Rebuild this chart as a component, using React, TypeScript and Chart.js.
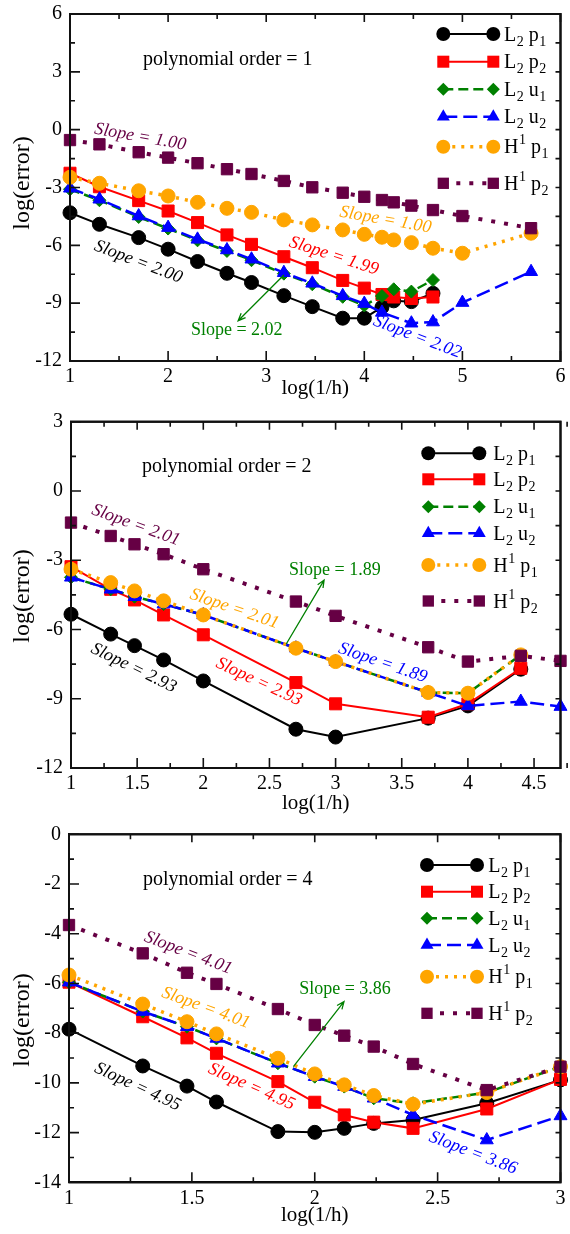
import React, { useEffect, useRef } from 'react';
import { Chart, registerables } from 'chart.js';

Chart.register(...registerables);

const SERIF = '"Liberation Serif", "Times New Roman", Times, serif';
const W = 570;

// ---------------- Panel 1 : polynomial order = 1 ----------------
const P1_X = [1, 1.3, 1.7, 2, 2.3, 2.6, 2.85, 3.18, 3.47, 3.78, 4.0, 4.18, 4.3, 4.48, 4.7];
const P1_X_LONG = [1, 1.3, 1.7, 2, 2.3, 2.6, 2.85, 3.18, 3.47, 3.78, 4.0, 4.18, 4.3, 4.48, 4.7, 5.0, 5.7];
const P1_X_U2 = [1, 1.3, 1.7, 2, 2.3, 2.6, 2.85, 3.18, 3.47, 3.78, 4.0, 4.18, 4.48, 4.7, 5.0, 5.7];
const P1_L2_P1 = [-4.31, -4.91, -5.6, -6.2, -6.84, -7.45, -7.93, -8.61, -9.18, -9.78, -9.78, -9.21, -8.88, -8.92, -8.49];
const P1_L2_P2 = [-2.26, -2.96, -3.68, -4.22, -4.82, -5.46, -5.95, -6.59, -7.16, -7.82, -8.22, -8.55, -8.68, -8.76, -8.68];
const P1_L2_U1 = [-3.09, -3.66, -4.53, -5.13, -5.74, -6.29, -6.77, -7.47, -8.02, -8.67, -9.12, -8.63, -8.28, -8.4, -7.8];
const P1_L2_U2 = [-3.04, -3.61, -4.48, -5.08, -5.69, -6.24, -6.72, -7.42, -7.97, -8.62, -9.02, -9.48, -10.04, -9.98, -8.97, -7.37];
const P1_H1_P1 = [-2.47, -2.78, -3.17, -3.44, -3.77, -4.08, -4.29, -4.68, -4.94, -5.2, -5.43, -5.58, -5.72, -5.86, -6.15, -6.41, -5.37];
const P1_H1_P2 = [-0.54, -0.76, -1.17, -1.45, -1.74, -2.05, -2.3, -2.66, -2.99, -3.27, -3.48, -3.65, -3.77, -3.94, -4.17, -4.48, -5.11];
const P1_X_TICKS = [1, 2, 3, 4, 5, 6];
const P1_Y_TICKS = [-12, -9, -6, -3, 0, 3, 6];

// ---------------- Panel 2 : polynomial order = 2 ----------------
const P2_X = [1, 1.3, 1.48, 1.7, 2, 2.7, 3, 3.7, 4, 4.4];
const P2_X_LONG = [1, 1.3, 1.48, 1.7, 2, 2.7, 3, 3.7, 4, 4.4, 4.7];
const P2_L2_P1 = [-5.34, -6.2, -6.7, -7.32, -8.23, -10.32, -10.66, -9.84, -9.31, -7.72];
const P2_L2_P2 = [-3.28, -4.26, -4.72, -5.37, -6.23, -8.3, -9.22, -9.8, -9.22, -7.68];
const P2_L2_U1 = [-3.74, -4.26, -4.58, -4.9, -5.37, -6.81, -7.39, -8.73, -8.76, -7.1];
const P2_L2_U2 = [-3.74, -4.26, -4.58, -4.9, -5.37, -6.81, -7.39, -8.73, -9.31, -9.12, -9.34];
const P2_H1_P1 = [-3.39, -3.97, -4.33, -4.76, -5.37, -6.81, -7.39, -8.73, -8.76, -7.1];
const P2_H1_P2 = [-1.37, -1.95, -2.31, -2.74, -3.39, -4.79, -5.41, -6.77, -7.39, -7.14, -7.36];
const P2_X_TICKS = [1, 1.5, 2, 2.5, 3, 3.5, 4, 4.5];
const P2_Y_TICKS = [-12, -9, -6, -3, 0, 3];

// ---------------- Panel 3 : polynomial order = 4 ----------------
const P3_X = [1, 1.3, 1.48, 1.6, 1.85, 2, 2.12, 2.24, 2.4, 2.7, 3];
const P3_L2_P1 = [-7.84, -9.32, -10.13, -10.77, -11.96, -11.99, -11.83, -11.63, -11.49, -10.82, -9.88];
const P3_L2_P2 = [-5.95, -7.34, -8.19, -8.81, -9.95, -10.78, -11.29, -11.58, -11.83, -11.05, -9.86];
const P3_L2_U1 = [-5.95, -7.13, -7.74, -8.21, -9.21, -9.75, -10.15, -10.62, -10.82, -10.39, -9.35];
const P3_L2_U2 = [-5.95, -7.13, -7.74, -8.21, -9.21, -9.75, -10.15, -10.62, -11.29, -12.3, -11.33];
const P3_H1_P1 = [-5.66, -6.83, -7.54, -8.03, -9.01, -9.64, -10.08, -10.51, -10.86, -10.39, -9.35];
const P3_H1_P2 = [-3.65, -4.79, -5.57, -6.02, -7.03, -7.67, -8.1, -8.54, -9.24, -10.29, -9.35];
const P3_X_TICKS = [1, 1.5, 2, 2.5, 3];
const P3_Y_TICKS = [-14, -12, -10, -8, -6, -4, -2, 0];

// legend labels: main letter, its index (sub/sup), variable, variable subscript
const LEGEND_LABELS = [
  { main: 'L', idx: '2', sup: false, v: 'p', vi: '1' },
  { main: 'L', idx: '2', sup: false, v: 'p', vi: '2' },
  { main: 'L', idx: '2', sup: false, v: 'u', vi: '1' },
  { main: 'L', idx: '2', sup: false, v: 'u', vi: '2' },
  { main: 'H', idx: '1', sup: true, v: 'p', vi: '1' },
  { main: 'H', idx: '1', sup: true, v: 'p', vi: '2' },
];

const BLACK = '#000000';
const RED = '#ff0000';
const GREEN = '#008000';
const BLUE = '#0000ff';
const ORANGE = '#ffa500';
const PURPLE = '#660044';

const STYLES = [
  { color: BLACK, pointStyle: 'circle', r: 7, dash: [], width: 2 },
  { color: RED, pointStyle: 'rect', r: 8.5, dash: [], width: 2 },
  { color: GREEN, pointStyle: 'rectRot', r: 6.5, dash: [10, 5], width: 2.5 },
  { color: BLUE, pointStyle: 'triangle', r: 7.5, dash: [14, 6], width: 2.5 },
  { color: ORANGE, pointStyle: 'circle', r: 7, dash: [3, 6], width: 3.5 },
  { color: PURPLE, pointStyle: 'rect', r: 8, dash: [4, 9], width: 4 },
];

const pts = (xs: number[], ys: number[]) => ys.map((y, i) => ({ x: xs[i], y }));

const PANELS = [
  {
    height: 405,
    area: { left: 70, top: 14, right: 566, bottom: 361 },
    xMin: 1, xMax: 6, xMinor: 0.5, yMin: -12, yMax: 6, yMinor: 1.5,
    xTicks: P1_X_TICKS, yTicks: P1_Y_TICKS,
    series: [
      pts(P1_X, P1_L2_P1), pts(P1_X, P1_L2_P2), pts(P1_X, P1_L2_U1),
      pts(P1_X_U2, P1_L2_U2), pts(P1_X_LONG, P1_H1_P1), pts(P1_X_LONG, P1_H1_P2),
    ],
    title: { text: 'polynomial order = 1', x: 143, y: 65 },
    yTitle: { x: 29, y: 183 },
    xTitle: { y: 394 },
    legend: { top: 34, rows: [0, 27.7, 55.3, 82.7, 112.7, 149.3], m1: 443.3, m2: 493.3, tx: 504 },
    notes: [
      { text: 'Slope = 1.00', color: PURPLE, italic: true, x: 1.716, y: -0.38, rot: 10 },
      { text: 'Slope = 2.00', color: BLACK, italic: true, x: 1.696, y: -6.86, rot: 21 },
      { text: 'Slope = 2.02', color: GREEN, italic: false, x: 2.7, y: -10.39, rot: 0 },
      { text: 'Slope = 1.99', color: RED, italic: true, x: 3.69, y: -6.55, rot: 18 },
      { text: 'Slope = 1.00', color: ORANGE, italic: true, x: 4.216, y: -4.68, rot: 10 },
      { text: 'Slope = 2.02', color: BLUE, italic: true, x: 4.54, y: -10.75, rot: 21 },
    ],
    arrow: { x1: 3.18, y1: -7.54, x2: 2.714, y2: -9.91 },
  },
  {
    height: 410,
    area: { left: 71, top: 16.7, right: 562.7, bottom: 363 },
    xMin: 1, xMax: 4.7, xMinor: 0.25, yMin: -12, yMax: 3, yMinor: 1.5,
    xTicks: P2_X_TICKS, yTicks: P2_Y_TICKS,
    series: [
      pts(P2_X, P2_L2_P1), pts(P2_X, P2_L2_P2), pts(P2_X, P2_L2_U1),
      pts(P2_X_LONG, P2_L2_U2), pts(P2_X, P2_H1_P1), pts(P2_X_LONG, P2_H1_P2),
    ],
    title: { text: 'polynomial order = 2', x: 142, y: 66.5 },
    yTitle: { x: 29, y: 191 },
    xTitle: { y: 404 },
    legend: { top: 48.3, rows: [0, 26, 53.4, 80, 111.7, 147.7], m1: 428.3, m2: 479.3, tx: 493.3 },
    notes: [
      { text: 'Slope = 2.01', color: PURPLE, italic: true, x: 1.49, y: -1.48, rot: 20 },
      { text: 'Slope = 2.01', color: ORANGE, italic: true, x: 2.235, y: -5.11, rot: 19 },
      { text: 'Slope = 2.93', color: BLACK, italic: true, x: 1.474, y: -7.67, rot: 26 },
      { text: 'Slope = 2.93', color: RED, italic: true, x: 2.42, y: -8.27, rot: 25 },
      { text: 'Slope = 1.89', color: GREEN, italic: false, x: 2.995, y: -3.42, rot: 0 },
      { text: 'Slope = 1.89', color: BLUE, italic: true, x: 3.357, y: -7.45, rot: 19 },
    ],
    arrow: { x1: 2.627, y1: -6.63, x2: 2.913, y2: -3.86 },
  },
  {
    height: 419,
    area: { left: 69, top: 19.3, right: 564.3, bottom: 367.3 },
    xMin: 1, xMax: 3, xMinor: 0.25, yMin: -14, yMax: 0, yMinor: 1,
    xTicks: P3_X_TICKS, yTicks: P3_Y_TICKS,
    series: [
      pts(P3_X, P3_L2_P1), pts(P3_X, P3_L2_P2), pts(P3_X, P3_L2_U1),
      pts(P3_X, P3_L2_U2), pts(P3_X, P3_H1_P1), pts(P3_X, P3_H1_P2),
    ],
    title: { text: 'polynomial order = 4', x: 143, y: 70 },
    yTitle: { x: 29, y: 205 },
    xTitle: { y: 406 },
    legend: { top: 50, rows: [0, 26.7, 53.3, 80, 111.7, 148.3], m1: 427, m2: 477, tx: 488.3 },
    notes: [
      { text: 'Slope = 4.01', color: PURPLE, italic: true, x: 1.485, y: -4.77, rot: 21 },
      { text: 'Slope = 4.01', color: ORANGE, italic: true, x: 1.557, y: -6.98, rot: 20 },
      { text: 'Slope = 4.95', color: BLACK, italic: true, x: 1.279, y: -10.16, rot: 25 },
      { text: 'Slope = 4.95', color: RED, italic: true, x: 1.743, y: -10.16, rot: 24 },
      { text: 'Slope = 3.86', color: GREEN, italic: false, x: 2.123, y: -6.22, rot: 0 },
      { text: 'Slope = 3.86', color: BLUE, italic: true, x: 2.644, y: -12.82, rot: 21 },
    ],
    arrow: { x1: 1.913, y1: -9.35, x2: 2.119, y2: -6.73 },
  },
];

function fmt(v: number) {
  return String(Math.round(v * 100) / 100);
}

function drawMarker(ctx: CanvasRenderingContext2D, style: string, x: number, y: number, r: number, color: string) {
  ctx.beginPath();
  if (style === 'circle') {
    ctx.arc(x, y, r, 0, Math.PI * 2);
  } else if (style === 'rect') {
    const s = r * Math.SQRT1_2;
    ctx.rect(x - s, y - s, 2 * s, 2 * s);
  } else if (style === 'rectRot') {
    ctx.moveTo(x - r, y);
    ctx.lineTo(x, y - r);
    ctx.lineTo(x + r, y);
    ctx.lineTo(x, y + r);
    ctx.closePath();
  } else if (style === 'triangle') {
    ctx.moveTo(x, y - r);
    ctx.lineTo(x + r * 0.866, y + r * 0.5);
    ctx.lineTo(x - r * 0.866, y + r * 0.5);
    ctx.closePath();
  }
  ctx.fillStyle = color;
  ctx.fill();
}

// inward tick marks and frame, placed through the chart's scales
function drawFrame(chart: any, cfg: any) {
  const ctx = chart.ctx;
  const a = chart.chartArea;
  const sx = chart.scales.x;
  const sy = chart.scales.y;
  ctx.save();
  ctx.setLineDash([]);
  ctx.globalAlpha = 1;
  ctx.strokeStyle = '#111111';
  ctx.lineWidth = 1.6;
  const nx = Math.round((cfg.xMax - cfg.xMin) / cfg.xMinor);
  for (let i = 0; i <= nx; i++) {
    const v = cfg.xMin + i * cfg.xMinor;
    const major = cfg.xTicks.some((t: number) => Math.abs(t - v) < 1e-6);
    const px = sx.getPixelForValue(v);
    ctx.beginPath();
    ctx.moveTo(px, a.bottom);
    ctx.lineTo(px, a.bottom - (major ? 10 : 5));
    ctx.moveTo(px, a.top);
    ctx.lineTo(px, a.top + (major ? 8 : 5));
    ctx.stroke();
  }
  const ny = Math.round((cfg.yMax - cfg.yMin) / cfg.yMinor);
  for (let i = 0; i <= ny; i++) {
    const v = cfg.yMin + i * cfg.yMinor;
    const major = cfg.yTicks.some((t: number) => Math.abs(t - v) < 1e-6);
    const py = sy.getPixelForValue(v);
    ctx.beginPath();
    ctx.moveTo(a.left, py);
    ctx.lineTo(a.left + (major ? 10 : 5), py);
    ctx.moveTo(a.right, py);
    ctx.lineTo(a.right - 5, py);
    ctx.stroke();
  }
  ctx.lineWidth = 2;
  ctx.strokeRect(a.left, a.top, a.right - a.left, a.bottom - a.top);
  ctx.restore();
}

function makeDecor(cfg: any) {
  return {
    id: 'panelDecor',
    afterDatasetsDraw(chart: any) {
      const { ctx, chartArea: a, scales } = chart;
      const sx = scales.x;
      const sy = scales.y;
      ctx.save();
      // panel title
      ctx.fillStyle = '#000';
      ctx.font = `20px ${SERIF}`;
      ctx.textAlign = 'left';
      ctx.textBaseline = 'alphabetic';
      ctx.fillText(cfg.title.text, cfg.title.x, cfg.title.y);
      // axis titles
      ctx.font = `21px ${SERIF}`;
      ctx.textAlign = 'center';
      ctx.fillText('log(1/h)', (a.left + a.right) / 2, cfg.xTitle.y);
      ctx.save();
      ctx.translate(cfg.yTitle.x, cfg.yTitle.y);
      ctx.rotate(-Math.PI / 2);
      ctx.font = `24px ${SERIF}`;
      ctx.fillText('log(error)', 0, 0);
      ctx.restore();
      // slope notes
      for (const n of cfg.notes) {
        ctx.save();
        ctx.translate(sx.getPixelForValue(n.x), sy.getPixelForValue(n.y));
        ctx.rotate((n.rot * Math.PI) / 180);
        ctx.fillStyle = n.color;
        ctx.font = `${n.italic ? 'italic ' : ''}18px ${SERIF}`;
        ctx.textAlign = 'center';
        ctx.textBaseline = 'middle';
        ctx.fillText(n.text, 0, 0);
        ctx.restore();
      }
      // arrow
      const ar = cfg.arrow;
      const x1 = sx.getPixelForValue(ar.x1), y1 = sy.getPixelForValue(ar.y1);
      const x2 = sx.getPixelForValue(ar.x2), y2 = sy.getPixelForValue(ar.y2);
      const ang = Math.atan2(y2 - y1, x2 - x1);
      ctx.strokeStyle = GREEN;
      ctx.lineWidth = 1.3;
      ctx.setLineDash([]);
      ctx.beginPath();
      ctx.moveTo(x1, y1);
      ctx.lineTo(x2, y2);
      ctx.moveTo(x2 - 8 * Math.cos(ang - 0.4), y2 - 8 * Math.sin(ang - 0.4));
      ctx.lineTo(x2, y2);
      ctx.lineTo(x2 - 8 * Math.cos(ang + 0.4), y2 - 8 * Math.sin(ang + 0.4));
      ctx.stroke();
      // legend
      const lg = cfg.legend;
      LEGEND_LABELS.forEach((lab, i) => {
        const st = STYLES[i];
        const y = lg.top + lg.rows[i];
        ctx.save();
        ctx.strokeStyle = st.color;
        ctx.lineWidth = st.width;
        ctx.setLineDash(st.dash);
        ctx.beginPath();
        ctx.moveTo(lg.m1, y);
        ctx.lineTo(lg.m2, y);
        ctx.stroke();
        ctx.restore();
        drawMarker(ctx, st.pointStyle, lg.m1, y, st.r, st.color);
        drawMarker(ctx, st.pointStyle, lg.m2, y, st.r, st.color);
        const base = y + 6.5;
        let tx = lg.tx;
        ctx.fillStyle = '#000';
        ctx.textAlign = 'left';
        ctx.textBaseline = 'alphabetic';
        ctx.font = `20px ${SERIF}`;
        ctx.fillText(lab.main, tx, base);
        tx += ctx.measureText(lab.main).width + 0.5;
        ctx.font = `14px ${SERIF}`;
        ctx.fillText(lab.idx, tx, base + (lab.sup ? -9 : 5));
        tx += ctx.measureText(lab.idx).width + 5;
        ctx.font = `20px ${SERIF}`;
        ctx.fillText(lab.v, tx, base);
        tx += ctx.measureText(lab.v).width + 0.5;
        ctx.font = `14px ${SERIF}`;
        ctx.fillText(lab.vi, tx, base + 5);
      });
      ctx.restore();
    },
    afterDraw(chart: any) {
      drawFrame(chart, cfg);
    },
  };
}

function Panel({ cfg }: { cfg: any }) {
  const ref = useRef<HTMLCanvasElement>(null);
  useEffect(() => {
    const a = cfg.area;
    const datasets: any[] = cfg.series.map((data: any, i: number) => {
      const st = STYLES[i];
      return {
        label: LEGEND_LABELS[i].main + LEGEND_LABELS[i].idx + ' ' + LEGEND_LABELS[i].v + LEGEND_LABELS[i].vi,
        data,
        borderColor: st.color,
        backgroundColor: st.color,
        borderWidth: st.width,
        borderDash: st.dash,
        pointStyle: st.pointStyle,
        pointRadius: st.r,
        pointBackgroundColor: st.color,
        pointBorderColor: st.color,
        pointBorderWidth: 1,
        fill: false,
        tension: 0,
        clip: false,
        order: 10 - i,
      };
    });
    // plot frame traced along the axis limits (drawn beneath the series)
    datasets.push({
      label: 'frame',
      data: [
        { x: cfg.xMin, y: cfg.yMin },
        { x: cfg.xMax, y: cfg.yMin },
        { x: cfg.xMax, y: cfg.yMax },
        { x: cfg.xMin, y: cfg.yMax },
        { x: cfg.xMin, y: cfg.yMin },
      ],
      borderColor: '#000000',
      borderWidth: 2,
      pointRadius: 0,
      fill: false,
      tension: 0,
      clip: false,
      order: 20,
    });
    const chart = new Chart(ref.current as HTMLCanvasElement, {
      type: 'line',
      data: { datasets },
      options: {
        responsive: false,
        animation: false,
        devicePixelRatio: 1,
        layout: { padding: { top: a.top, right: W - a.right, left: 0, bottom: 0 } },
        plugins: { legend: { display: false }, tooltip: { enabled: false } },
        scales: {
          x: {
            type: 'linear',
            position: 'bottom',
            min: cfg.xMin,
            max: cfg.xMax,
            grid: { display: false, drawTicks: false },
            border: { display: true, color: '#000000', width: 2 },
            afterFit: (s: any) => {
              s.height = cfg.height - a.bottom;
              s.paddingLeft = 0;
              s.paddingRight = 0;
            },
            afterBuildTicks: (s: any) => { s.ticks = cfg.xTicks.map((v: number) => ({ value: v })); },
            ticks: {
              color: '#000', font: { family: SERIF, size: 20 }, padding: 4,
              maxRotation: 0, autoSkip: false, callback: (v: any) => fmt(Number(v)),
            },
          },
          y: {
            type: 'linear',
            position: 'left',
            min: cfg.yMin,
            max: cfg.yMax,
            grid: { display: false, drawTicks: false },
            border: { display: true, color: '#000000', width: 2 },
            afterFit: (s: any) => {
              s.width = a.left;
              s.paddingTop = 0;
              s.paddingBottom = 0;
            },
            afterBuildTicks: (s: any) => { s.ticks = cfg.yTicks.map((v: number) => ({ value: v })); },
            ticks: {
              color: '#000', font: { family: SERIF, size: 20 }, padding: 8,
              autoSkip: false, callback: (v: any) => fmt(Number(v)),
            },
          },
        },
      },
      plugins: [makeDecor(cfg)],
    } as any);
    return () => chart.destroy();
  }, [cfg]);
  return (
    <canvas
      ref={ref}
      width={W}
      height={cfg.height}
      style={{ display: 'block', width: W, height: cfg.height }}
    />
  );
}

export default function App() {
  return (
    <div style={{ position: 'absolute', left: 0, top: 0, width: W, background: '#fff' }}>
      {PANELS.map((p, i) => (
        <Panel key={i} cfg={p} />
      ))}
    </div>
  );
}
